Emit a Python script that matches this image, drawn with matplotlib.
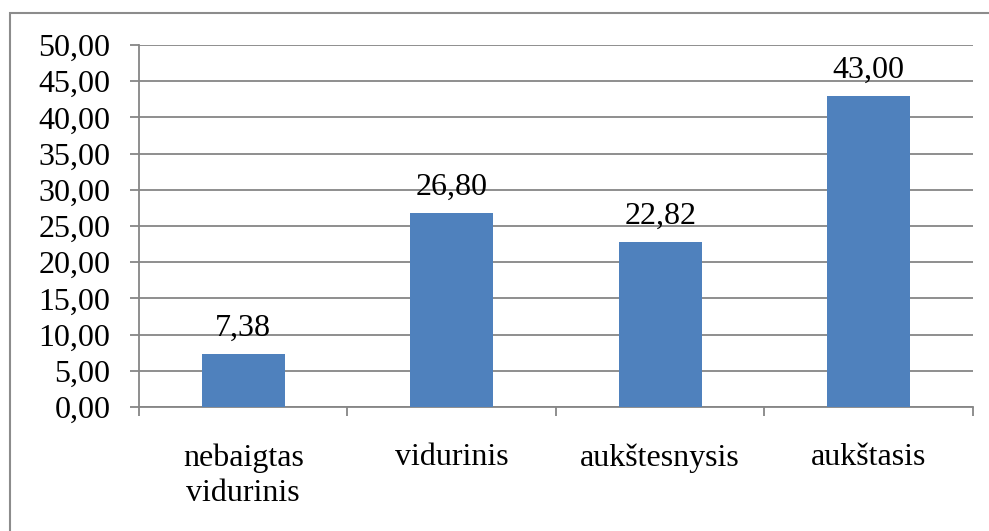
import matplotlib.pyplot as plt
import numpy as np
from matplotlib.patches import Rectangle

categories = ['nebaigtas\nvidurinis', 'vidurinis', 'aukštesnysis', 'aukštasis']
values = [7.38, 26.80, 22.82, 43.00]
yticks = [0, 5, 10, 15, 20, 25, 30, 35, 40, 45, 50]

plt.rcParams['font.family'] = ['Liberation Serif', 'DejaVu Serif']
grid_color = '#868686'
fs = 23

fig = plt.figure(figsize=(9.89, 5.31), dpi=100)
ax = fig.add_axes([0.1405, 0.2335, 0.8433, 0.6818])

x = np.arange(len(categories))
ax.bar(x, values, width=0.4, color='#4F81BD', zorder=3)

for xi, v in zip(x, values):
    ax.annotate(f'{v:.2f}'.replace('.', ','), (xi, v), xytext=(0, 8),
                textcoords='offset points', ha='center', va='bottom', fontsize=fs)

ax.set_xlim(-0.5, len(categories) - 0.5)
ax.set_ylim(0, 50)
ax.set_yticks(yticks)
ax.set_yticklabels([f'{t:.2f}'.replace('.', ',') for t in yticks], fontsize=fs)
ax.set_xticks(x)
ax.set_xticklabels(categories, fontsize=fs, linespacing=1.3)
ax.set_xticks(np.arange(-0.5, len(categories), 1), minor=True)

ax.yaxis.grid(True, color=grid_color, linewidth=1.3, zorder=0)
ax.tick_params(axis='y', length=6.5, width=1.3, color=grid_color, pad=14)
ax.tick_params(axis='x', which='major', length=0, pad=26)
ax.tick_params(axis='x', which='minor', length=6.5, width=1.3, color=grid_color)

for side in ['top', 'right']:
    ax.spines[side].set_visible(False)
for side in ['left', 'bottom']:
    ax.spines[side].set_color(grid_color)
    ax.spines[side].set_linewidth(1.3)

# outer chart frame
fig.patches.append(Rectangle((10 / 989, -0.1), 1.2, (531 - 13) / 531 + 0.1,
                             transform=fig.transFigure, fill=False,
                             edgecolor='#8c8c8c', linewidth=1.5))

fig.savefig('out.png', dpi=100)
